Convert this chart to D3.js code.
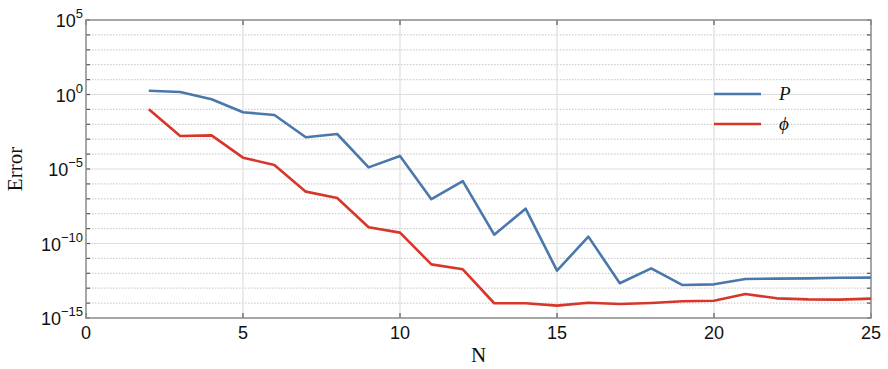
<!DOCTYPE html>
<html>
<head>
<meta charset="utf-8">
<script src="https://cdn.jsdelivr.net/npm/d3@7"></script>
<style>
  body { margin: 0; background: #fff; }
  svg { display: block; }
  .sans { font-family: 'Liberation Sans', Arial, sans-serif; }
  .serif { font-family: 'Liberation Serif', 'Times New Roman', serif; }
</style>
</head>
<body>
<svg id="chart" width="888" height="369"></svg>
<script>
// Convergence of the error with the number of terms N (log scale)
const N = [2,3,4,5,6,7,8,9,10,11,12,13,14,15,16,17,18,19,20,21,22,23,24,25];
// log10 of the error for each series
const logErrP   = [0.25,0.17,-0.32,-1.19,-1.38,-2.87,-2.65,-4.89,-4.13,-7.03,-5.81,-9.41,-7.66,-11.82,-9.54,-12.67,-11.67,-12.79,-12.74,-12.38,-12.36,-12.34,-12.30,-12.29];
const logErrPhi = [-0.99,-2.79,-2.74,-4.24,-4.73,-6.52,-6.95,-8.91,-9.27,-11.40,-11.73,-14.01,-14.01,-14.17,-13.98,-14.06,-13.99,-13.88,-13.84,-13.39,-13.68,-13.75,-13.77,-13.70];
const seriesNames = ["P", "\u03D5"];
const xTicks = [0,5,10,15,20,25];
const yTickExp = [5,0,-5,-10,-15];

const svg = d3.select("#chart");
const m = {left: 86, right: 871, top: 20, bottom: 318};

const x = d3.scaleLinear().domain([0,25]).range([m.left, m.right]);
const y = d3.scaleLog().domain([1e-15, 1e5]).range([m.bottom, m.top]);

// Grid: dotted at each decade, solid at labelled decades
const decades = d3.range(-15, 6);
const g = svg.append("g");
g.selectAll("line.minor").data(decades.filter(e => !yTickExp.includes(e)))
  .join("line")
  .attr("x1", m.left).attr("x2", m.right)
  .attr("y1", e => y(Math.pow(10,e))).attr("y2", e => y(Math.pow(10,e)))
  .attr("stroke", "#cfcfcf").attr("stroke-width", 1.2).attr("stroke-dasharray", "1.5,1.5");
g.selectAll("line.major").data(yTickExp.filter(e => e > -15 && e < 5))
  .join("line")
  .attr("x1", m.left).attr("x2", m.right)
  .attr("y1", e => y(Math.pow(10,e))).attr("y2", e => y(Math.pow(10,e)))
  .attr("stroke", "#dedede").attr("stroke-width", 1.2);
g.selectAll("line.vgrid").data(xTicks.filter(t => t > 0 && t < 25))
  .join("line")
  .attr("x1", d => x(d)).attr("x2", d => x(d))
  .attr("y1", m.top).attr("y2", m.bottom)
  .attr("stroke", "#dedede").attr("stroke-width", 1.2);

// Inward tick marks on all four sides
const ticks = svg.append("g").attr("stroke", "#555").attr("stroke-width", 1.2);
decades.forEach(e => {
  const yy = y(Math.pow(10,e));
  ticks.append("line").attr("x1", m.left).attr("x2", m.left + 4).attr("y1", yy).attr("y2", yy);
  ticks.append("line").attr("x1", m.right - 4).attr("x2", m.right).attr("y1", yy).attr("y2", yy);
});
xTicks.forEach(t => {
  ticks.append("line").attr("x1", x(t)).attr("x2", x(t)).attr("y1", m.bottom).attr("y2", m.bottom - 5);
  ticks.append("line").attr("x1", x(t)).attr("x2", x(t)).attr("y1", m.top).attr("y2", m.top + 5);
});

// Frame
svg.append("rect")
  .attr("x", m.left).attr("y", m.top)
  .attr("width", m.right - m.left).attr("height", m.bottom - m.top)
  .attr("fill", "none").attr("stroke", "#8a8a8a").attr("stroke-width", 1.5);

// Lines
const colors = ["#4a78ab", "#d7372a"];
const data = [logErrP, logErrPhi].map(arr => arr.map((v, i) => ({n: N[i], v: Math.pow(10, v)})));
const line = d3.line().x(d => x(d.n)).y(d => y(d.v));
svg.selectAll("path.series").data(data).join("path")
  .attr("d", line).attr("fill", "none")
  .attr("stroke", (d, i) => colors[i]).attr("stroke-width", 2.6)
  .attr("stroke-linejoin", "round");

// X tick labels
svg.selectAll("text.xt").data(xTicks).join("text")
  .attr("class", "sans")
  .attr("x", d => x(d)).attr("y", 339)
  .attr("text-anchor", "middle")
  .attr("font-size", 18)
  .attr("fill", "#111").text(d => d);

// Y tick labels: 10 with superscript exponent
yTickExp.forEach(e => {
  const t = svg.append("text")
    .attr("class", "sans")
    .attr("x", 83).attr("y", y(Math.pow(10,e)) + 7)
    .attr("text-anchor", "end")
    .attr("font-size", 18)
    .attr("fill", "#111");
  t.append("tspan").text("10");
  t.append("tspan").attr("dy", -9).attr("font-size", 13)
    .text(e < 0 ? "\u2212" + (-e) : String(e));
});

// Axis titles
svg.append("text")
  .attr("class", "serif")
  .attr("transform", `translate(22,${(m.top + m.bottom) / 2}) rotate(-90)`)
  .attr("text-anchor", "middle")
  .attr("font-size", 21)
  .attr("fill", "#111").text("Error");
svg.append("text")
  .attr("class", "serif")
  .attr("x", (m.left + m.right) / 2).attr("y", 362)
  .attr("text-anchor", "middle")
  .attr("font-size", 21)
  .attr("fill", "#111").text("N");

// Legend
const legend = svg.append("g");
seriesNames.forEach((name, i) => {
  const ly = 94 + i * 30;
  legend.append("line").attr("x1", 714).attr("x2", 761).attr("y1", ly).attr("y2", ly)
    .attr("stroke", colors[i]).attr("stroke-width", 2.6);
  legend.append("text").attr("class", "serif").attr("x", 779).attr("y", ly + 6)
    .attr("font-style", "italic")
    .attr("font-size", 19).attr("fill", "#111").text(name);
});
</script>
</body>
</html>
